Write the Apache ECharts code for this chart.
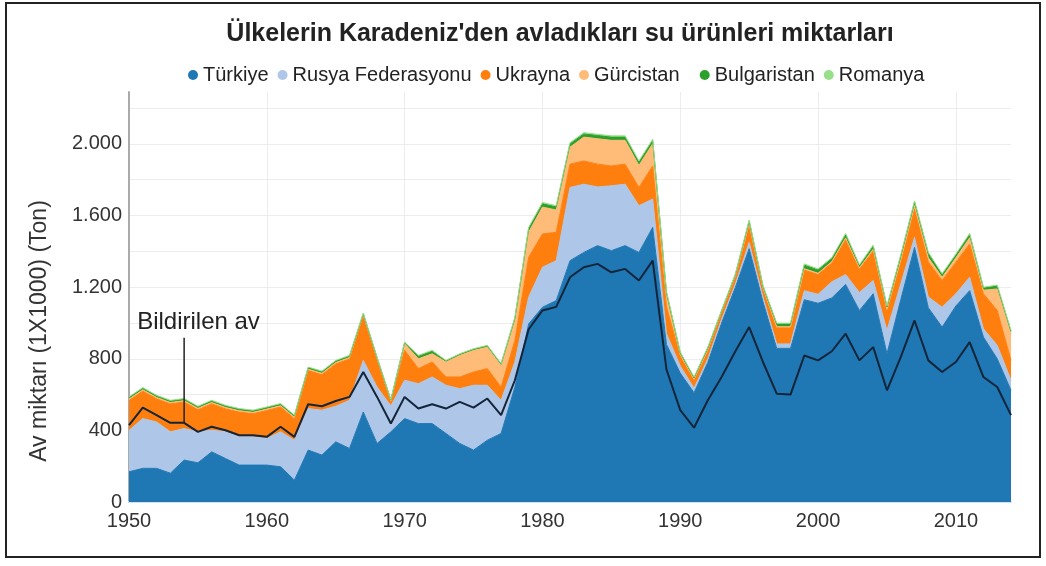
<!DOCTYPE html>
<html><head><meta charset="utf-8">
<script src="https://cdn.jsdelivr.net/npm/echarts@6.0.0/dist/echarts.min.js"></script>
<style>html,body{margin:0;padding:0;background:#fff}#c{width:1046px;height:566px}</style>
</head><body><div id="c"></div>
<script>
const years = [1950,1951,1952,1953,1954,1955,1956,1957,1958,1959,1960,1961,1962,1963,1964,1965,1966,1967,1968,1969,1970,1971,1972,1973,1974,1975,1976,1977,1978,1979,1980,1981,1982,1983,1984,1985,1986,1987,1988,1989,1990,1991,1992,1993,1994,1995,1996,1997,1998,1999,2000,2001,2002,2003,2004,2005,2006,2007,2008,2009,2010,2011,2012,2013,2014];
const turkiye = [169,188,188,161,234,219,280,243,206,206,206,197,122,290,262,336,299,503,327,392,466,438,438,383,327,290,345,383,642,995,1088,1125,1348,1394,1432,1404,1432,1394,1534,880,720,610,780,1000,1200,1415,1120,858,858,1130,1110,1140,1215,1070,1163,828,1130,1422,1085,977,1095,1181,921,800,624];
const rusya = [231,278,259,231,176,173,121,149,158,158,149,195,223,232,251,199,269,288,315,145,214,223,260,269,306,362,307,185,140,149,223,223,409,381,328,362,343,261,158,60,40,25,20,20,18,35,25,25,25,50,50,90,55,100,74,130,88,56,60,111,68,74,46,75,56];
const ukrayna = [167,153,129,156,148,123,147,128,138,129,156,138,120,212,198,236,231,248,151,25,167,84,84,46,65,74,93,74,120,223,186,158,130,130,127,111,112,102,185,150,55,45,45,40,40,95,45,90,90,115,110,105,195,130,165,110,120,158,195,149,176,186,196,195,111];
const gurcistan = [8,8,8,8,8,8,8,8,8,8,8,8,8,8,8,8,8,8,8,4,37,55,46,84,121,121,120,121,112,140,150,125,95,133,142,143,133,123,124,60,8,6,5,4,4,10,5,6,6,8,8,8,10,8,10,8,15,20,25,18,25,35,20,120,150];
const bulgaristan = [8,8,8,8,8,8,8,8,8,8,8,8,8,8,8,8,8,5,5,4,6,14,14,6,6,6,7,7,12,20,19,17,18,18,18,18,18,18,18,20,10,8,10,4,8,15,10,15,15,20,18,17,18,12,17,14,20,20,22,15,16,18,12,16,12];
const romanya = [4,4,4,4,4,4,4,4,4,4,4,4,4,4,4,4,4,3,3,2,3,5,5,3,3,3,3,3,6,7,7,7,7,7,7,7,7,7,7,6,4,4,5,2,4,5,5,5,5,7,6,5,7,5,6,5,7,6,8,5,5,6,5,6,5];
const bildirilen = [429,527,485,442,442,392,420,401,373,373,364,420,364,546,535,564,587,726,587,438,587,522,546,522,559,527,578,485,680,965,1070,1090,1255,1311,1330,1283,1302,1237,1348,740,513,415,568,698,842,977,782,605,600,818,791,842,940,791,865,624,809,1014,791,726,782,893,698,642,485];
const seriesNames = ['Türkiye','Rusya Federasyonu','Ukrayna','Gürcistan','Bulgaristan','Romanya'];
const seriesValues = [turkiye, rusya, ukrayna, gurcistan, bulgaristan, romanya];
const seriesColors = ['#1f77b4','#aec7e8','#ff7f0e','#ffbb78','#2ca02c','#98df8a'];
const annotationYear = 1954;
const annotationText = 'Bildirilen av';

const FONT = 'Liberation Sans, Arial, sans-serif';
const chart = echarts.init(document.getElementById('c'), null, {renderer:'canvas'});
const fmt = v => v >= 1000 ? Math.floor(v/1000) + '.' + String(v%1000).padStart(3,'0') : String(v);
const decade = (idx) => years[idx] % 10 === 0;

const series = seriesNames.map((n,i)=>({
  name:n, type:'line', stack:'total', data:seriesValues[i].slice(),
  symbol:'none', smooth:false,
  lineStyle:{width:1, color:seriesColors[i]},
  areaStyle:{color:seriesColors[i], opacity:1},
  itemStyle:{color:seriesColors[i]},
  emphasis:{disabled:true}, z:2
}));
series.push({
  name:'Bildirilen av', type:'line', data:bildirilen.slice(), symbol:'none',
  lineStyle:{width:2, color:'#14253a'}, itemStyle:{color:'#14253a'}, z:5,
  emphasis:{disabled:true}
});

const frameAndTitle = [
  {type:'rect', shape:{x:6, y:3, width:1034, height:554}, style:{fill:'none', stroke:'#222', lineWidth:2}, z:100},
  {type:'text', x:40, y:331, rotation:Math.PI/2, style:{text:'Av miktarı (1X1000) (Ton)', fontFamily:FONT, fontSize:23, fill:'#333', align:'center', verticalAlign:'middle'}}
];

chart.setOption({
  animation:false,
  backgroundColor:'#fff',
  title:{text:'Ülkelerin Karadeniz\'den avladıkları su ürünleri miktarları', left:555, textAlign:'center', top:17,
    textStyle:{fontFamily:FONT, fontSize:25, fontWeight:'bold', color:'#222'}},
  legend:{data:seriesNames, top:60, left:183, icon:'circle', itemWidth:10, itemHeight:10, itemGap:9,
    textStyle:{fontFamily:FONT, fontSize:20, color:'#222'},
    formatter: n => n === 'Gürcistan' ? n + '  ' : n},
  grid:{left:129, right:35, top:92, bottom:64, containLabel:false},
  xAxis:{type:'category', data:years.map(String), boundaryGap:false,
    axisLine:{show:true, lineStyle:{color:'#cfe1f2', width:2}},
    axisTick:{show:false},
    axisLabel:{fontFamily:FONT, fontSize:20, color:'#333', margin:9, interval:decade},
    splitLine:{show:true, interval:decade, lineStyle:{color:'#ececec', width:1}}},
  yAxis:{type:'value', min:0, max:2290, interval:200,
    axisLine:{show:true, lineStyle:{color:'#aaa', width:2}},
    axisTick:{show:false},
    axisLabel:{fontFamily:FONT, fontSize:20, color:'#333', margin:7, showMaxLabel:false, formatter:v => v % 400 === 0 ? fmt(v) : ''},
    splitLine:{show:true, showMaxLine:false, lineStyle:{color:'#ececec', width:1}}},
  series:series,
  graphic:frameAndTitle
});

const ai = years.indexOf(annotationYear);
const p = chart.convertToPixel({gridIndex:0}, [ai, bildirilen[ai]]);
chart.setOption({graphic:frameAndTitle.concat([
  {type:'line', shape:{x1:p[0], y1:p[1], x2:p[0], y2:p[1]-85}, style:{stroke:'#222', lineWidth:1.5}, z:20},
  {type:'text', x:p[0]-47, y:p[1]-100, style:{text:annotationText, fontFamily:FONT, fontSize:24, fill:'#222', align:'left', verticalAlign:'middle'}, z:20}
])});
</script></body></html>
